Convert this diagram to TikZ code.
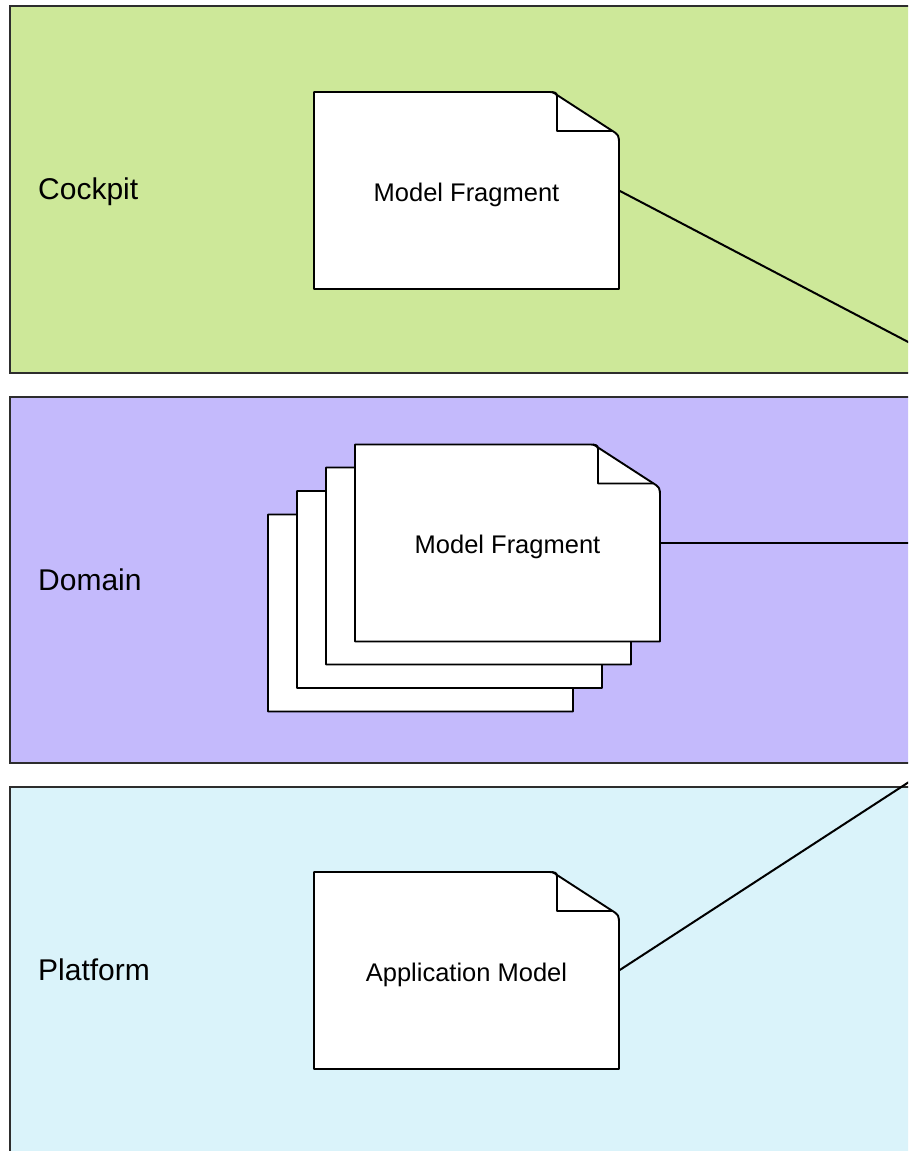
\documentclass[tikz,border=0pt]{standalone}
\usepackage{fontspec}
\setmainfont{Liberation Sans}
\usetikzlibrary{calc}
\definecolor{cockpitbg}{RGB}{205,232,153}
\definecolor{domainbg}{RGB}{196,186,252}
\definecolor{platformbg}{RGB}{218,243,250}
\definecolor{lanedraw}{RGB}{45,45,45}
\newcommand\docoutline[1]{%
  \begin{scope}[shift={(#1.north west)}]
    \draw[docline] (0,197) -- (0,0) -- (233,0) .. controls (239,0) .. (243,3)
      -- (297,38) .. controls (305,43) .. (305,53) -- (305,197) -- cycle;
    \draw[docline, fill=none] (238,0) .. controls (243,1) .. (243,8) -- (243,39)
      -- (298,39);
  \end{scope}}
\begin{document}
\begin{tikzpicture}[x=1pt,y=-1pt,
  lane/.style={draw=lanedraw, line width=2.8pt},
  lanelabel/.style={anchor=base west, font=\fontsize{30}{35}\selectfont, inner sep=0pt},
  doclabel/.style={anchor=base, font=\fontsize{25.5}{30}\selectfont, inner sep=0pt},
  docbox/.style={anchor=north west, draw=none, minimum width=305pt, minimum height=197pt, inner sep=0pt, outer sep=0pt},
  docline/.style={line width=1.9pt, draw=black, fill=white, line join=round},
  link/.style={line width=2pt, draw=black}]
\useasboundingbox (0,0) rectangle (908,1151);
\clip (0,0) rectangle (908,1151);
% lanes
\draw[lane, fill=cockpitbg] (10,6) rectangle (1000,373);
\draw[lane, fill=domainbg] (10,397) rectangle (1000,763);
\draw[lane, fill=platformbg] (10,787) rectangle (1000,1200);
\node[lanelabel] (lcockpit) at (38,199) {Cockpit};
\node[lanelabel] (ldomain) at (38,590) {Domain};
\node[lanelabel] (lplatform) at (38,980) {Platform};
% free ends of connectors
\coordinate (e1) at (912,344);
\coordinate (e2) at (912,543);
\coordinate (e3) at (912,780);
% cockpit document
\node[docbox] (cdoc) at (314,92) {};
\docoutline{cdoc}
\node[doclabel] (cdoctext) at ($(cdoc.north)+(0,109)$) {Model Fragment};
% domain stack
\node[docbox] (d4) at (268,514.5) {};
\docoutline{d4}
\node[docbox] (d3) at (297,491) {};
\docoutline{d3}
\node[docbox] (d2) at (326,467.5) {};
\docoutline{d2}
\node[docbox] (d1) at (355,444.5) {};
\docoutline{d1}
\node[doclabel] (d1text) at ($(d1.north)+(0,109)$) {Model Fragment};
% platform document
\node[docbox] (pdoc) at (314,872) {};
\docoutline{pdoc}
\node[doclabel] (pdoctext) at ($(pdoc.north)+(0,109)$) {Application Model};
% connectors
\draw[link] (cdoc.east) -- (e1);
\draw[link] (d1.east) -- (e2);
\draw[link] (pdoc.east) -- (e3);
\end{tikzpicture}
\end{document}
